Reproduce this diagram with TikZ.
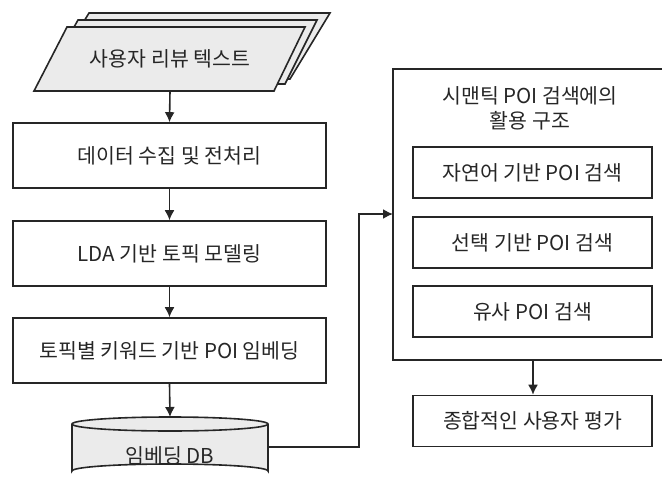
\documentclass[tikz,border=0pt]{standalone}
\usepackage{fontspec}
\setmainfont{Noto Sans CJK KR}
\usetikzlibrary{arrows.meta,shapes.geometric}
\definecolor{lgray}{HTML}{EBEBEB}
\definecolor{lc}{HTML}{262626}
\tikzset{
  txt/.style={font=\fontsize{20.5}{24}\selectfont,text=lc},
  box/.style={txt,draw=lc,line width=1.6pt,minimum height=65pt,minimum width=313pt,inner sep=0pt},
  ibox/.style={txt,draw=lc,line width=1.6pt,minimum height=51pt,minimum width=239pt,inner sep=0pt},
  arr/.style={-{Latex[length=10pt,width=10pt]},draw=lc,line width=1.6pt},
  para/.style={draw=lc,line width=1.6pt,fill=lgray},
}
\begin{document}
\begin{tikzpicture}[x=1pt,y=-1pt]
\useasboundingbox (0,0) rectangle (662,479);
\begin{scope}
\clip (0,0) rectangle (662,479);
% stacked parallelograms
\draw[para] (89,13) -- (330,13) -- (290,79) -- (49,79) -- cycle;
\draw[para] (78,20) -- (317,20) -- (285,84) -- (42,84) -- cycle;
\draw[para] (67,27) -- (305,27) -- (274,91) -- (34,91) -- cycle;
\node[txt] (src) at (170,59) {사용자 리뷰 텍스트};
\coordinate (srcb) at (170,91);
% left column boxes
\node[box] (b1) at (169.5,155.5) {데이터 수집 및 전처리};
\node[box] (b2) at (169.5,253.5) {LDA 기반 토픽 모델링};
\node[box] (b3) at (169.5,350.5) {토픽별 키워드 기반 POI 임베딩};
% cylinder
\draw[para] (72,424) -- (72,471) arc[start angle=180,end angle=360,x radius=98,y radius=7] -- (268,424);
\draw[para] (170,424) ellipse (98 and 7);
\node[txt] (db) at (170,455.5) {임베딩 DB};
\coordinate (dbtop) at (170,417);
\coordinate (dbr) at (268,447);
% outer box
\draw[draw=lc,line width=1.6pt] (393,69) rectangle (680,360);
\coordinate (outl) at (393,214);
\coordinate (outb) at (533,360);
\node[txt,font=\fontsize{20.5}{25}\selectfont,align=center] (title) at (530,108) {시맨틱 POI 검색에의\\활용 구조};
\node[ibox] (s1) at (532.5,172.5) {자연어 기반 POI 검색};
\node[ibox] (s2) at (532.5,242.5) {선택 기반 POI 검색};
\node[ibox] (s3) at (532.5,311.5) {유사 POI 검색};
\node[ibox] (ev) at (532.5,421) {종합적인 사용자 평가};
% arrows
\draw[arr] (srcb) -- (b1.north);
\draw[arr] (b1.south) -- (b2.north);
\draw[arr] (b2.south) -- (b3.north);
\draw[arr] (b3.south) -- (dbtop);
\draw[arr] (dbr) -| (359,214) -- (outl);
\draw[arr] (outb) -- (ev.north -| outb);
\end{scope}
\end{tikzpicture}
\end{document}
